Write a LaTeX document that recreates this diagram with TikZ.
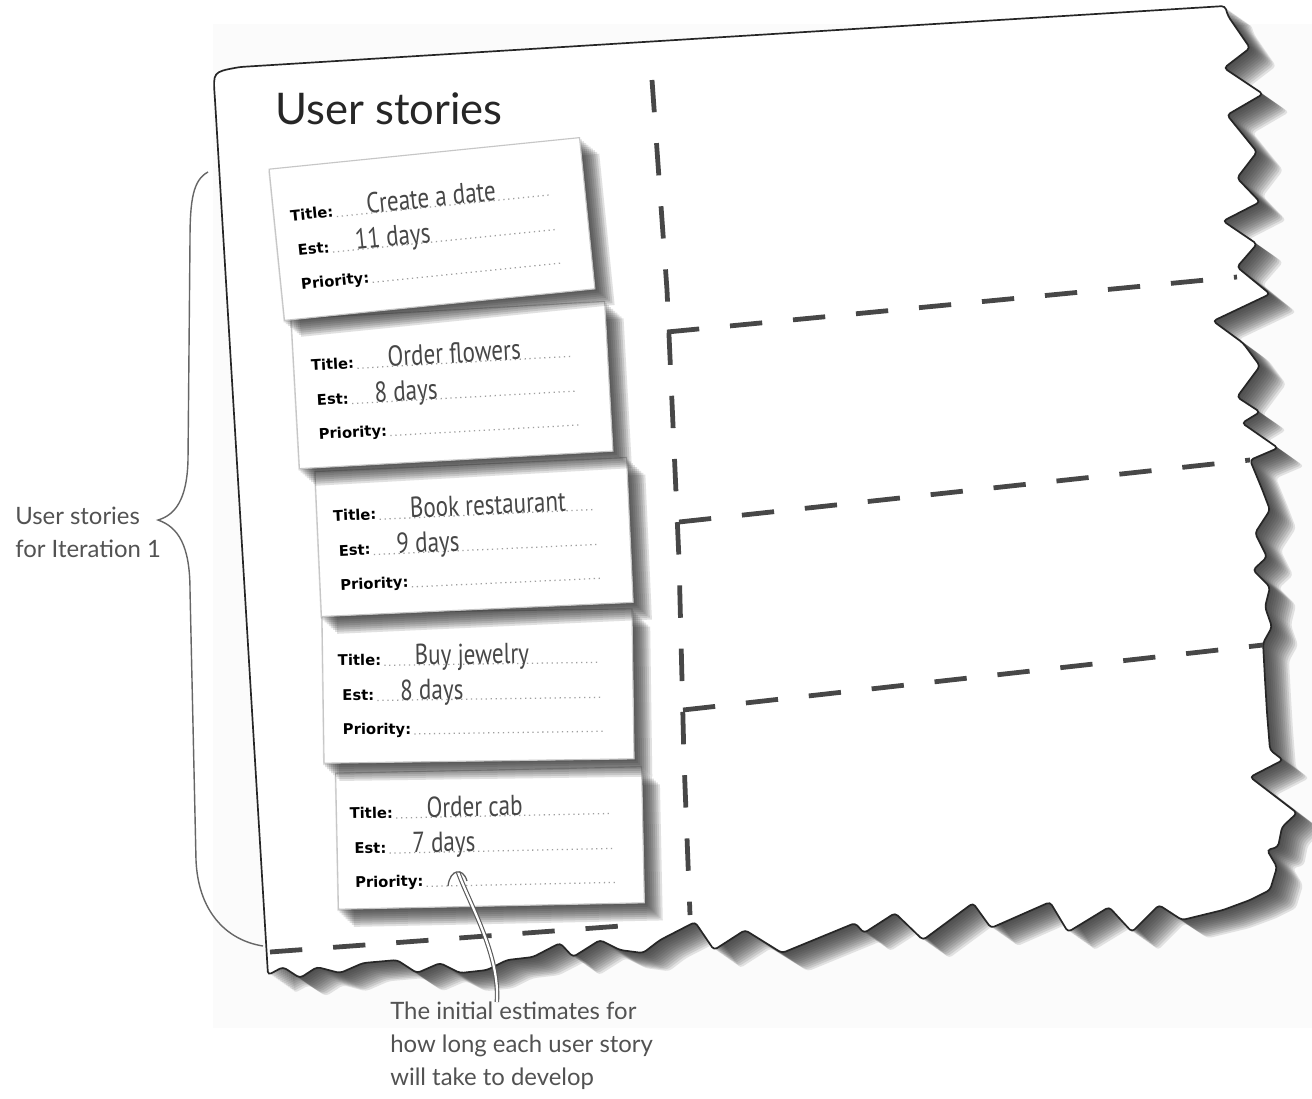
\documentclass[tikz,border=0pt]{standalone}
\usepackage{fontspec}
\newfontfamily\handfont[FakeStretch=0.8]{PT Sans}
\newfontfamily\notefont{Lato}
\newfontfamily\labelfont{DejaVu Sans}

% outline of the torn board
\newcommand\boardpath{(215,100) .. controls (213,72) .. (240,67) -- (1225,6) -- (1228,16) -- (1250,48) -- (1224,68) -- (1263,94) -- (1227,115) -- (1257,152) -- (1237,178) -- (1260,202) -- (1223,221) -- (1257,244) -- (1237,267) -- (1270,294) -- (1213,321) -- (1243,343) -- (1260,366) -- (1237,397) -- (1260,412) -- (1242,423) -- (1278,448) -- (1250,460) -- (1262,489) -- (1270,510) -- (1255,533) -- (1267,557) -- (1253,570) -- (1270,587) -- (1265,607) -- (1272,627) -- (1263,643) -- (1265,680) -- (1267,713) -- (1270,750) -- (1283,760) -- (1250,777) -- (1297,813) -- (1282,827) -- (1278,847) -- (1267,850) -- (1277,867) -- (1270,890) -- (1250,900) -- (1223,910) -- (1182,920) -- (1159,905) -- (1132,932) -- (1109,907) -- (1068,932) -- (1050,902) -- (991,928) -- (973,903) -- (923,940) -- (895,913) -- (864,933) -- (855,923) -- (782,953) -- (745,930) -- (714,950) -- (695,922) -- (660,940) -- (643,953) -- (620,950) -- (600,940) -- (573,957) -- (560,943) -- (533,957) -- (507,960) -- (487,970) -- (460,973) -- (440,963) -- (417,973) -- (397,960) -- (363,963) -- (340,973) -- (317,967) -- (300,978) -- (283,967) -- (268,975) -- cycle}

\begin{document}
\begin{tikzpicture}[x=0.025cm,y=-0.025cm,
	board/.style={draw=black!85,line width=1.2pt,rounded corners=2.5pt},
	divider/.style={black!72,line width=3.4pt,dash pattern=on 23pt off 22pt},
	card/.style={draw=gray!45,fill=white,line width=0.8pt,inner sep=0pt},
	cardlabel/.style={font={\labelfont\bfseries\fontsize{10.5}{12}\selectfont},inner sep=0pt,transform shape},
	hand/.style={font={\handfont\fontsize{20.5}{24}\selectfont},text=black!72,inner sep=0pt,transform shape},
	leader/.style={gray!75,line width=0.9pt,dash pattern=on 0.9pt off 2.6pt},
	note/.style={font={\notefont\fontsize{17}{23.5}\selectfont},text=black!68,align=left,inner sep=0pt},
	pointer/.style={draw=black!65,line width=0.8pt,double=white,double distance=1.6pt}]
	\useasboundingbox (0,0) rectangle (1312,1098);
	\fill[white] (0,0) rectangle (1312,1098);
	\fill[gray!3] (213,24) rectangle (1312,1028);
	% board with its shadow
	\foreach \s in {2,4,...,26}
		\fill[black!80,opacity=.13,shift={(\s,\s*0.7)},rounded corners=2.5pt] \boardpath;
	\fill[white,rounded corners=2.5pt] \boardpath;
	\draw[board] \boardpath;
	% column and row dividers
	\draw[divider] (652,80) -- (667,290) -- (679,560) -- (684,760) -- (690,915);
	\draw[divider] (667,332) -- (1237,277);
	\draw[divider] (679,522) -- (1250,460);
	\draw[divider] (683,710) -- (1263,645);
	\draw[divider] (270,952) -- (648,924);
	% story cards, lowest first
	\foreach \cx/\cy/\ang/\cardw/\cardh/\ttl/\est/\n in {490/838/1.2/306/136/Order cab/7 days/5,478/686/0.8/310/150/Buy jewelry/8 days/4,474/537/2.6/312/145/Book restaurant/9 days/3,452/385/3.2/314/150/Order flowers/8 days/2,432/229/5.8/312/152/Create a date/11 days/1}{
		\begin{scope}[shift={(\cx,\cy)},rotate=\ang]
			\foreach \s in {2,4,...,18}
				\fill[black!85,opacity=.14] ({-\cardw/2+\s-3},{-\cardh/2+\s}) rectangle ({\cardw/2+\s},{\cardh/2+\s});
			\node[card,transform shape,minimum width=\cardw*0.025cm,minimum height=\cardh*0.025cm] (card\n) at (0,0) {};
			\node[cardlabel,anchor=base west] (t\n) at (-140,-22) {Title:};
			\node[cardlabel,anchor=base west] (e\n) at (-136,13) {Est:};
			\node[cardlabel,anchor=base west] (p\n) at (-136,47) {Priority:};
			\draw[leader] ([xshift=2pt]t\n.base east) -- (122,-22);
			\draw[leader] ([xshift=2pt]e\n.base east) -- (124,13);
			\draw[leader] ([xshift=2pt]p\n.base east) -- (126,47);
			\node[hand,anchor=base west] (v\n) at (-63,-22) {\ttl};
			\node[hand,anchor=base west] (d\n) at (-78,13) {\est};
		\end{scope}
	}
	\node[font={\notefont\fontsize{31}{36}\selectfont},text=black!85,anchor=base west,inner sep=0pt] (heading) at (275,124) {User stories};
	% brace and notes
	\draw[black!60,line width=1pt] (208,172) .. controls (193,180) and (190,200) .. (190,240) -- (188,460) .. controls (187,500) and (175,515) .. (158,520) .. controls (178,527) and (190,545) .. (190,590) -- (196,860) .. controls (198,910) and (225,940) .. (263,946);
	\node[note,anchor=north west] (iter) at (15,507) {User stories\\for Iteration 1};
	\node[note,anchor=north west] (note) at (390,1002) {The initial estimates for\\how long each user story\\will take to develop};
	\coordinate (tip) at (458,872);
	\draw[pointer] ([xshift=76pt]note.north west) .. controls (500,955) and (470,905) .. (tip);
	\draw[black!65,line width=0.9pt] ([shift={(-10,14)}]tip) .. controls ([shift={(-8,-3)}]tip) and ([shift={(5,-5)}]tip) .. ([shift={(9,9)}]tip);
\end{tikzpicture}
\end{document}
